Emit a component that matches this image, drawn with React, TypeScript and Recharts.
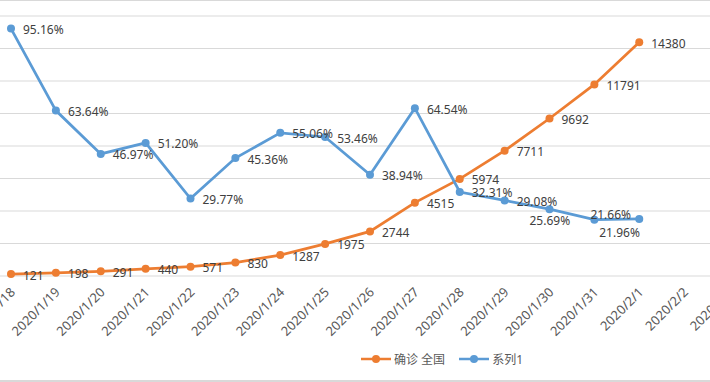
import React from "react";
import {
  LineChart,
  Line,
  XAxis,
  YAxis,
  CartesianGrid,
  Legend,
  LabelList,
} from "recharts";

const ORANGE = "#ED7D31";
const BLUE = "#5B9BD5";
const FONT = "'Noto Sans', 'Noto Sans CJK SC', sans-serif";

const dates = [
  "2020/1/18", "2020/1/19", "2020/1/20", "2020/1/21", "2020/1/22", "2020/1/23",
  "2020/1/24", "2020/1/25", "2020/1/26", "2020/1/27", "2020/1/28", "2020/1/29",
  "2020/1/30", "2020/1/31", "2020/2/1", "2020/2/2", "2020/2/3",
];
const confirmed = [121, 198, 291, 440, 571, 830, 1287, 1975, 2744, 4515, 5974, 7711, 9692, 11791, 14380];
const ratio = [
  0.9516, 0.6364, 0.4697, 0.512, 0.2977, 0.4536, 0.5506, 0.5346, 0.3894, 0.6454,
  0.3231, 0.2908, 0.2569, 0.2166, 0.2196,
];
const leftTicks = [0, 2000, 4000, 6000, 8000, 10000, 12000, 14000, 16000];

// label nudges for the few labels excel had moved by hand
const blueNudge: Record<number, [number, number]> = {
  12: [-20, 11],
  13: [-4, -5],
  14: [-40, 14],
};

const data = dates.map((d, i) => ({
  date: d,
  confirmed: confirmed[i] ?? null,
  ratio: ratio[i] ?? null,
}));

function makeLabel(pct: boolean, nudge: Record<number, [number, number]>) {
  return (props: any) => {
    const { x, y, value, index } = props;
    if (value == null) return null;
    const [dx, dy] = nudge[index] ?? [12, 1];
    const txt = pct ? (value * 100).toFixed(2) + "%" : String(value);
    return (
      <text
        x={x + dx}
        y={y + dy}
        dominantBaseline="central"
        fill="#404040"
        fontSize={12}
        fontFamily={FONT}
      >
        {txt}
      </text>
    );
  };
}

const DateTick = (props: any) => {
  const { x, y, payload } = props;
  return (
    <g transform={`translate(${x + 5},${y + 9})`}>
      <text
        textAnchor="end"
        transform="rotate(-45)"
        fill="#595959"
        fontSize={13}
        fontFamily={FONT}
      >
        {payload.value}
      </text>
    </g>
  );
};

const LegendBox = () => {
  const items = [
    { name: "确诊 全国", color: ORANGE },
    { name: "系列1", color: BLUE },
  ];
  return (
    <div style={{ display: "flex", alignItems: "center", fontFamily: FONT, fontSize: 12, color: "#595959" }}>
      {items.map((it) => (
        <div key={it.name} style={{ display: "flex", alignItems: "center", marginRight: 14 }}>
          <svg width={30} height={10}>
            <line x1={0} y1={5} x2={30} y2={5} stroke={it.color} strokeWidth={2.5} />
            <circle cx={15} cy={5} r={4} fill={it.color} />
          </svg>
          <span style={{ marginLeft: 3, whiteSpace: "nowrap" }}>{it.name}</span>
        </div>
      ))}
    </div>
  );
};

export default function App() {
  return (
    <div
      style={{
        position: "absolute",
        left: 0,
        top: 0,
        width: 710,
        height: 382,
        overflow: "hidden",
        background: "#fff",
      }}
    >
      <div style={{ position: "absolute", left: 0, top: 0, width: 710, height: 1, background: "#d9d9d9" }} />
      <div style={{ position: "absolute", left: 0, top: 380, width: 710, height: 1.5, background: "#d9d9d9" }} />
      <div style={{ position: "absolute", left: -30, top: 0 }}>
        <LineChart
          width={800}
          height={382}
          data={data}
          margin={{ top: 16, right: 0, left: 0, bottom: 0 }}
        >
          <CartesianGrid vertical={false} stroke="#d9d9d9" yAxisId="left" />
          <XAxis
            dataKey="date"
            height={106}
            padding={{ left: 41, right: 41 }}
            axisLine={false}
            tickLine={false}
            interval={0}
            tick={<DateTick />}
          />
          <YAxis yAxisId="left" hide domain={[0, 16000]} ticks={leftTicks} />
          <YAxis yAxisId="right" orientation="right" hide domain={[0, 1]} />
          <Legend
            layout="horizontal"
            verticalAlign="middle"
            align="center"
            wrapperStyle={{ top: 350, left: 391, width: "auto" }}
            content={<LegendBox />}
          />
          <Line
            yAxisId="left"
            dataKey="confirmed"
            name="确诊 全国"
            stroke={ORANGE}
            strokeWidth={2.75}
            dot={{ r: 4, fill: ORANGE, stroke: ORANGE, strokeWidth: 0 }}
            activeDot={false}
            isAnimationActive={false}
          >
            <LabelList dataKey="confirmed" content={makeLabel(false, {})} />
          </Line>
          <Line
            yAxisId="right"
            dataKey="ratio"
            name="系列1"
            stroke={BLUE}
            strokeWidth={2.75}
            dot={{ r: 4, fill: BLUE, stroke: BLUE, strokeWidth: 0 }}
            activeDot={false}
            isAnimationActive={false}
          >
            <LabelList dataKey="ratio" content={makeLabel(true, blueNudge)} />
          </Line>
        </LineChart>
      </div>
    </div>
  );
}
